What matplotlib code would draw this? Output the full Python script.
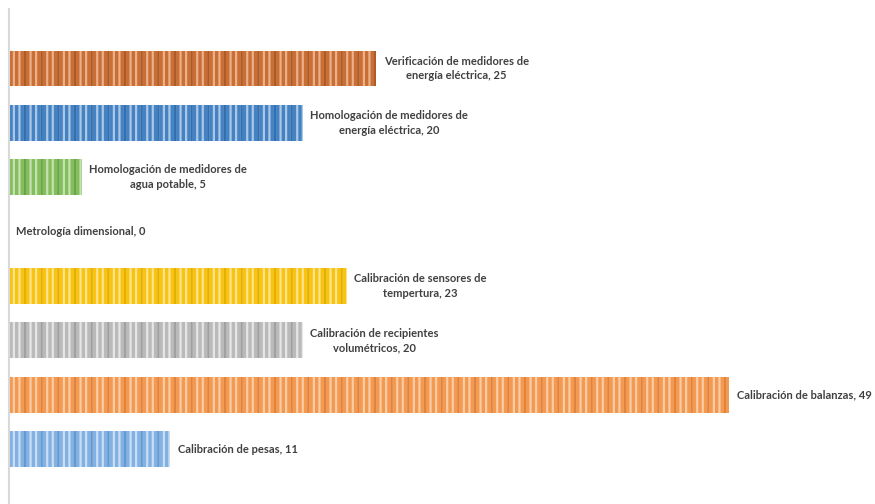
import textwrap
import matplotlib.pyplot as plt

# categories, top to bottom as in the chart
categories = [
    'Verificación de medidores de energía eléctrica',
    'Homologación de medidores de energía eléctrica',
    'Homologación de medidores de agua potable',
    'Metrología dimensional',
    'Calibración de sensores de tempertura',
    'Calibración de recipientes volumétricos',
    'Calibración de balanzas',
    'Calibración de pesas',
]
values = [25, 20, 5, 0, 23, 20, 49, 11]

base_colors = ['#C96E35', '#4682C2', '#84BD5E', '#F7C414',
               '#BABABA', '#F29A52', '#82B1E2']
stripe_colors = ['#E9B08A', '#A9C8E8', '#C4E2AE', '#FFE38A',
                 '#E6E6E6', '#FBCBA3', '#C9DEF4']
dark_colors = ['#AE5A25', '#3170B0', '#69A544', '#E5B000',
               '#A0A0A0', '#E3823A', '#6199D2']

plt.rcParams['hatch.linewidth'] = 1.6
fig = plt.figure(figsize=(8.75, 5.04), dpi=100)
ax = fig.add_axes([8.5 / 875, 0, 1 - 8.5 / 875, 1 - 9 / 504])

ypos = list(range(len(categories)))
ci = 0
for y, cat, v in zip(ypos, categories, values):
    if v > 0:
        ax.barh(y, v, height=0.66, color=base_colors[ci],
                edgecolor=stripe_colors[ci], linewidth=0, hatch='|||')
        ax.barh(y, v, height=0.66, facecolor='none',
                edgecolor=dark_colors[ci], linewidth=0, hatch='|')
        ci += 1
    label = textwrap.fill(f'{cat}, {v}', width=28)
    ax.text(v + 0.5, y, label, ha='left', va='center', multialignment='center',
            fontsize=8.0, fontweight='bold', color='#404040', family='Lato',
            linespacing=1.4)

ax.set_xlim(0, (875 - 8.5) / 14.71)
ax.set_ylim(8.01, -1.094)
for s in ['top', 'right', 'bottom']:
    ax.spines[s].set_visible(False)
ax.spines['left'].set_color('#D9D9D9')
ax.spines['left'].set_linewidth(1.5)
ax.set_xticks([])
ax.set_yticks([])

fig.savefig('out.png', dpi=100)
